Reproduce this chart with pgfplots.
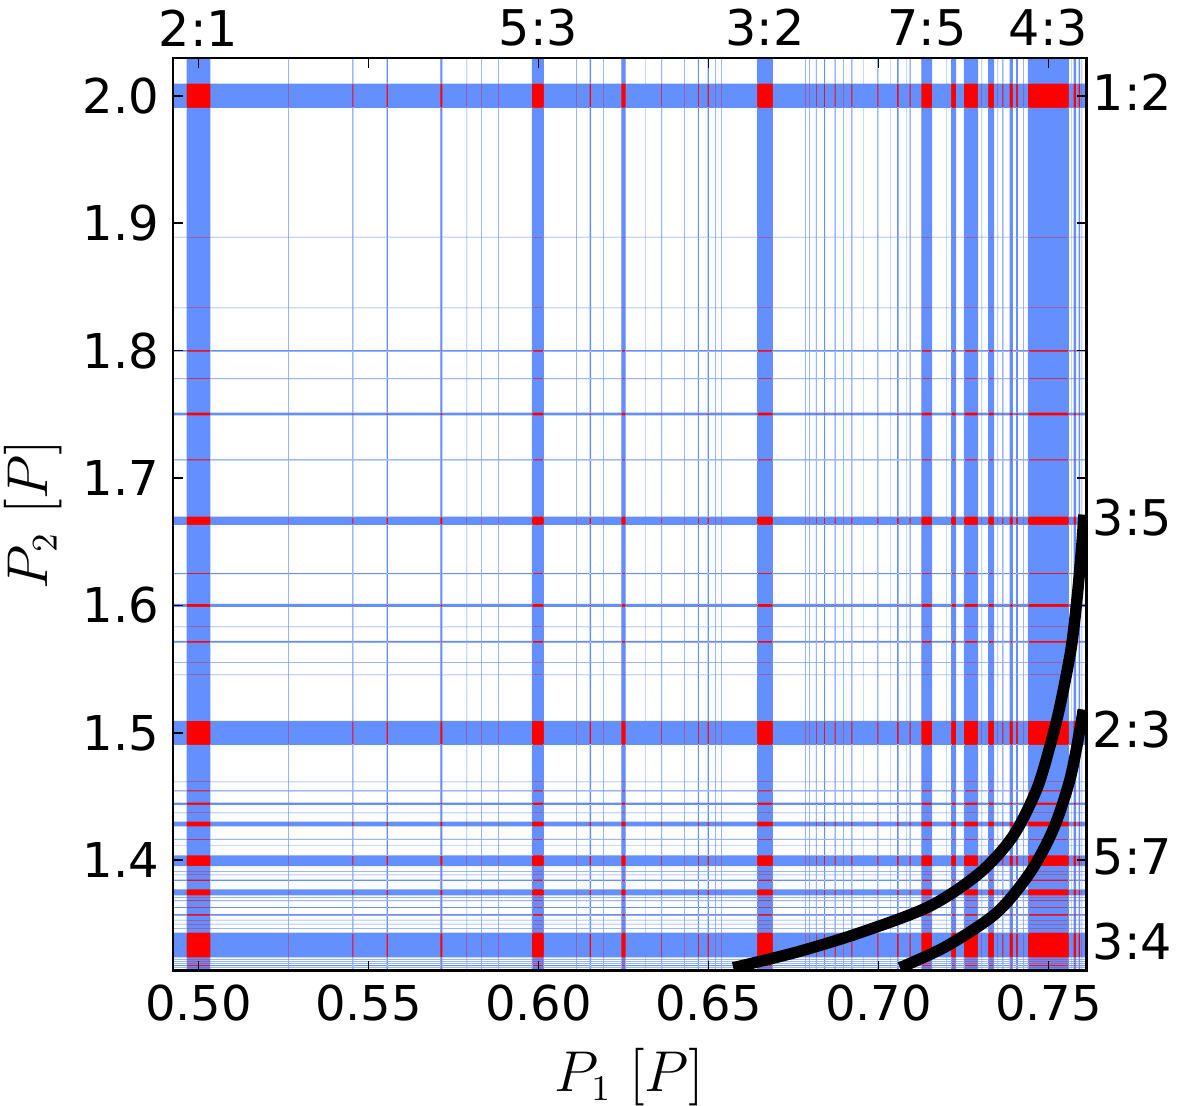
\documentclass[border=0pt]{standalone}
\usepackage{pgfplots}
\pgfplotsset{compat=1.18}
\usepackage{pgfplotstable}
\usepackage{fontspec}
\setmainfont{DejaVu Sans}
\definecolor{bandblue}{RGB}{100,143,255}
\definecolor{bandred}{RGB}{255,0,0}

% all resonance bands (vertical: P1 bands, horizontal: P2 bands) as rectangles
\pgfplotstableread{
x y
0.496471 1.2
0.503529 1.2
0.503529 2.2
0.496471 2.2
nan nan
0.52646 1.2
0.52660 1.2
0.52660 2.2
0.52646 2.2
nan nan
0.54529 1.2
0.54559 1.2
0.54559 2.2
0.54529 2.2
nan nan
0.55535 1.2
0.55571 1.2
0.55571 2.2
0.55535 2.2
nan nan
0.57112 1.2
0.57170 1.2
0.57170 2.2
0.57112 2.2
nan nan
0.57890 1.2
0.57904 1.2
0.57904 2.2
0.57890 2.2
nan nan
0.58311 1.2
0.58325 1.2
0.58325 2.2
0.58311 2.2
nan nan
0.58822 1.2
0.58836 1.2
0.58836 2.2
0.58822 2.2
nan nan
0.59809 1.2
0.60162 1.2
0.60162 2.2
0.59809 2.2
nan nan
0.61117 1.2
0.61131 1.2
0.61131 2.2
0.61117 2.2
nan nan
0.61502 1.2
0.61546 1.2
0.61546 2.2
0.61502 2.2
nan nan
0.61911 1.2
0.61925 1.2
0.61925 2.2
0.61911 2.2
nan nan
0.62435 1.2
0.62565 1.2
0.62565 2.2
0.62435 2.2
nan nan
0.63134 1.2
0.63148 1.2
0.63148 2.2
0.63134 2.2
nan nan
0.63612 1.2
0.63636 1.2
0.63636 2.2
0.63612 2.2
nan nan
0.64293 1.2
0.64307 1.2
0.64307 2.2
0.64293 2.2
nan nan
0.64685 1.2
0.64715 1.2
0.64715 2.2
0.64685 2.2
nan nan
0.64979 1.2
0.65009 1.2
0.65009 2.2
0.64979 2.2
nan nan
0.65193 1.2
0.65207 1.2
0.65207 2.2
0.65193 2.2
nan nan
0.65381 1.2
0.65395 1.2
0.65395 2.2
0.65381 2.2
nan nan
0.66435 1.2
0.66897 1.2
0.66897 2.2
0.66435 2.2
nan nan
0.67852 1.2
0.67866 1.2
0.67866 2.2
0.67852 2.2
nan nan
0.67969 1.2
0.67983 1.2
0.67983 2.2
0.67969 2.2
nan nan
0.68159 1.2
0.68183 1.2
0.68183 2.2
0.68159 2.2
nan nan
0.68403 1.2
0.68433 1.2
0.68433 2.2
0.68403 2.2
nan nan
0.68714 1.2
0.68744 1.2
0.68744 2.2
0.68714 2.2
nan nan
0.68958 1.2
0.68972 1.2
0.68972 2.2
0.68958 2.2
nan nan
0.69206 1.2
0.69236 1.2
0.69236 2.2
0.69206 2.2
nan nan
0.69546 1.2
0.69560 1.2
0.69560 2.2
0.69546 2.2
nan nan
0.69970 1.2
0.70000 1.2
0.70000 2.2
0.69970 2.2
nan nan
0.70340 1.2
0.70354 1.2
0.70354 2.2
0.70340 2.2
nan nan
0.70552 1.2
0.70596 1.2
0.70596 2.2
0.70552 2.2
nan nan
0.70811 1.2
0.70825 1.2
0.70825 2.2
0.70811 2.2
nan nan
0.70920 1.2
0.70950 1.2
0.70950 2.2
0.70920 2.2
nan nan
0.71259 1.2
0.71582 1.2
0.71582 2.2
0.71259 2.2
nan nan
0.71987 1.2
0.72001 1.2
0.72001 2.2
0.71987 2.2
nan nan
0.72141 1.2
0.72288 1.2
0.72288 2.2
0.72141 2.2
nan nan
0.72515 1.2
0.72935 1.2
0.72935 2.2
0.72515 2.2
nan nan
0.73037 1.2
0.73051 1.2
0.73051 2.2
0.73037 2.2
nan nan
0.73229 1.2
0.73406 1.2
0.73406 2.2
0.73229 2.2
nan nan
0.73508 1.2
0.73522 1.2
0.73522 2.2
0.73508 2.2
nan nan
0.73647 1.2
0.73677 1.2
0.73677 2.2
0.73647 2.2
nan nan
0.73859 1.2
0.73956 1.2
0.73956 2.2
0.73859 2.2
nan nan
0.74053 1.2
0.74103 1.2
0.74103 2.2
0.74053 2.2
nan nan
0.74264 1.2
0.74278 1.2
0.74278 2.2
0.74264 2.2
nan nan
0.74397 1.2
0.75603 1.2
0.75603 2.2
0.74397 2.2
nan nan
0.75664 1.2
0.75678 1.2
0.75678 2.2
0.75664 2.2
nan nan
0.75741 1.2
0.75818 1.2
0.75818 2.2
0.75741 2.2
nan nan
0.75888 1.2
0.75935 1.2
0.75935 2.2
0.75888 2.2
nan nan
0.75978 1.2
0.75992 1.2
0.75992 2.2
0.75978 2.2
nan nan
0.45 1.99043
0.80 1.99043
0.80 2.00949
0.45 2.00949
nan nan
0.45 1.88882
0.80 1.88882
0.80 1.88922
0.45 1.88922
nan nan
0.45 1.83337
0.80 1.83337
0.80 1.83377
0.45 1.83377
nan nan
0.45 1.79925
0.80 1.79925
0.80 1.80043
0.45 1.80043
nan nan
0.45 1.77768
0.80 1.77768
0.80 1.77808
0.45 1.77808
nan nan
0.45 1.74910
0.80 1.74910
0.80 1.75122
0.45 1.75122
nan nan
0.45 1.71373
0.80 1.71373
0.80 1.71451
0.45 1.71451
nan nan
0.45 1.66314
0.80 1.66314
0.80 1.66965
0.45 1.66965
nan nan
0.45 1.62463
0.80 1.62463
0.80 1.62525
0.45 1.62525
nan nan
0.45 1.59882
0.80 1.59882
0.80 1.60118
0.45 1.60118
nan nan
0.45 1.58294
0.80 1.58294
0.80 1.58334
0.45 1.58334
nan nan
0.45 1.57078
0.80 1.57078
0.80 1.57212
0.45 1.57212
nan nan
0.45 1.55494
0.80 1.55494
0.80 1.55534
0.45 1.55534
nan nan
0.45 1.54529
0.80 1.54529
0.80 1.54569
0.45 1.54569
nan nan
0.45 1.49059
0.80 1.49059
0.80 1.50941
0.45 1.50941
nan nan
0.45 1.46137
0.80 1.46137
0.80 1.46177
0.45 1.46177
nan nan
0.45 1.45412
0.80 1.45412
0.80 1.45490
0.45 1.45490
nan nan
0.45 1.44353
0.80 1.44353
0.80 1.44533
0.45 1.44533
nan nan
0.45 1.43705
0.80 1.43705
0.80 1.43745
0.45 1.43745
nan nan
0.45 1.42651
0.80 1.42651
0.80 1.43043
0.45 1.43043
nan nan
0.45 1.41624
0.80 1.41624
0.80 1.41686
0.45 1.41686
nan nan
0.45 1.41172
0.80 1.41172
0.80 1.41196
0.45 1.41196
nan nan
0.45 1.39537
0.80 1.39537
0.80 1.40376
0.45 1.40376
nan nan
0.45 1.39102
0.80 1.39102
0.80 1.39142
0.45 1.39142
nan nan
0.45 1.38843
0.80 1.38843
0.80 1.38883
0.45 1.38883
nan nan
0.45 1.38388
0.80 1.38388
0.80 1.38490
0.45 1.38490
nan nan
0.45 1.37239
0.80 1.37239
0.80 1.37710
0.45 1.37710
nan nan
0.45 1.37062
0.80 1.37062
0.80 1.37102
0.45 1.37102
nan nan
0.45 1.36785
0.80 1.36785
0.80 1.36863
0.45 1.36863
nan nan
0.45 1.36267
0.80 1.36267
0.80 1.36329
0.45 1.36329
nan nan
0.45 1.35647
0.80 1.35647
0.80 1.35773
0.45 1.35773
nan nan
0.45 1.35282
0.80 1.35282
0.80 1.35322
0.45 1.35322
nan nan
0.45 1.34968
0.80 1.34968
0.80 1.35008
0.45 1.35008
nan nan
0.45 1.34631
0.80 1.34631
0.80 1.34671
0.45 1.34671
nan nan
0.45 1.32376
0.80 1.32376
0.80 1.34314
0.45 1.34314
nan nan
0.45 1.32200
0.80 1.32200
0.80 1.32240
0.45 1.32240
nan nan
0.45 1.32043
0.80 1.32043
0.80 1.32083
0.45 1.32083
nan nan
0.45 1.31862
0.80 1.31862
0.80 1.31902
0.45 1.31902
nan nan
0.45 1.31686
0.80 1.31686
0.80 1.31764
0.45 1.31764
nan nan
0.45 1.31572
0.80 1.31572
0.80 1.31612
0.45 1.31612
nan nan
}\bands

% wider bands, slightly inset: shown red where two bands cross
\pgfplotstableread{
x y
0.496647 1.2
0.503353 1.2
0.503353 2.2
0.496647 2.2
nan nan
0.57130 1.2
0.57152 1.2
0.57152 2.2
0.57130 2.2
nan nan
0.59827 1.2
0.60144 1.2
0.60144 2.2
0.59827 2.2
nan nan
0.62453 1.2
0.62547 1.2
0.62547 2.2
0.62453 2.2
nan nan
0.66453 1.2
0.66879 1.2
0.66879 2.2
0.66453 2.2
nan nan
0.71277 1.2
0.71564 1.2
0.71564 2.2
0.71277 2.2
nan nan
0.72159 1.2
0.72270 1.2
0.72270 2.2
0.72159 2.2
nan nan
0.72533 1.2
0.72917 1.2
0.72917 2.2
0.72533 2.2
nan nan
0.73247 1.2
0.73388 1.2
0.73388 2.2
0.73247 2.2
nan nan
0.73877 1.2
0.73938 1.2
0.73938 2.2
0.73877 2.2
nan nan
0.74071 1.2
0.74085 1.2
0.74085 2.2
0.74071 2.2
nan nan
0.74415 1.2
0.75585 1.2
0.75585 2.2
0.74415 2.2
nan nan
0.75759 1.2
0.75800 1.2
0.75800 2.2
0.75759 2.2
nan nan
0.75906 1.2
0.75917 1.2
0.75917 2.2
0.75906 2.2
nan nan
0.45 1.99090
0.80 1.99090
0.80 2.00902
0.45 2.00902
nan nan
0.45 1.79972
0.80 1.79972
0.80 1.79996
0.45 1.79996
nan nan
0.45 1.74957
0.80 1.74957
0.80 1.75075
0.45 1.75075
nan nan
0.45 1.66361
0.80 1.66361
0.80 1.66918
0.45 1.66918
nan nan
0.45 1.59929
0.80 1.59929
0.80 1.60071
0.45 1.60071
nan nan
0.45 1.57125
0.80 1.57125
0.80 1.57165
0.45 1.57165
nan nan
0.45 1.49106
0.80 1.49106
0.80 1.50894
0.45 1.50894
nan nan
0.45 1.44400
0.80 1.44400
0.80 1.44486
0.45 1.44486
nan nan
0.45 1.42698
0.80 1.42698
0.80 1.42996
0.45 1.42996
nan nan
0.45 1.39584
0.80 1.39584
0.80 1.40329
0.45 1.40329
nan nan
0.45 1.37286
0.80 1.37286
0.80 1.37663
0.45 1.37663
nan nan
0.45 1.35694
0.80 1.35694
0.80 1.35726
0.45 1.35726
nan nan
0.45 1.32423
0.80 1.32423
0.80 1.34267
0.45 1.34267
nan nan
}\redbands

\begin{document}
\begin{tikzpicture}
\path[use as bounding box] (-43.25pt,-33.625pt) rectangle (251.25pt,242.625pt);
\begin{axis}[
  at={(0pt,0pt)}, anchor=south west,
  width=228.375pt, height=228.125pt, scale only axis,
  xmin=0.4925, xmax=0.7612, ymin=1.3135, ymax=2.0296,
  xtick={0.5,0.55,0.6,0.65,0.7,0.75},
  ytick={1.4,1.5,1.6,1.7,1.8,1.9,2.0},
  tick pos=both, tick align=inside,
  major tick length=2.5pt,
  every tick/.style={black, line width=0.4pt},
  axis line style={line width=0.6pt},
  axis on top,
  unbounded coords=jump,
  /pgf/number format/assume math mode=true,
  tick label style={font=\fontsize{12}{14}\selectfont},
  x tick label style={/pgf/number format/fixed, /pgf/number format/fixed zerofill, /pgf/number format/precision=2},
  y tick label style={/pgf/number format/fixed, /pgf/number format/fixed zerofill, /pgf/number format/precision=1},
  xlabel={$P_1\ [P]$}, ylabel={$P_2\ [P]$},
  label style={font=\fontsize{13.5}{16}\selectfont},
  ylabel style={yshift=-1.8pt},
]
\addplot[fill=bandred, draw=none] table {\redbands};
\addplot[fill=bandblue, draw=none, even odd rule] table {\bands};
\addplot[black, line width=2.85pt, smooth, tension=0.5] coordinates {
(0.65729,1.31569) (0.67594,1.32792) (0.69456,1.34314) (0.71515,1.36400)
(0.72985,1.39020) (0.73956,1.41890) (0.74653,1.45553) (0.75044,1.48949)
(0.75338,1.52086) (0.75662,1.56533) (0.75838,1.60455) (0.75971,1.64376)
(0.76044,1.67122)};
\addplot[black, line width=2.85pt, smooth, tension=0.5] coordinates {
(0.70632,1.31569) (0.72006,1.33263) (0.73476,1.35882) (0.74456,1.39020)
(0.75141,1.42416) (0.75632,1.46337) (0.75926,1.50259) (0.76024,1.51827)};
\end{axis}
\begin{axis}[
  at={(0pt,0pt)}, anchor=south west,
  width=228.375pt, height=228.125pt, scale only axis,
  xmin=0.4925, xmax=0.7612, ymin=1.3135, ymax=2.0296,
  axis line style={draw=none},
  xtick pos=right, ytick pos=right,
  xticklabel pos=right, yticklabel pos=right,
  major tick length=0pt,
  xtick={0.5,0.6,0.666667,0.714286,0.75},
  xticklabels={2:1,5:3,3:2,7:5,4:3},
  ytick={2,1.666667,1.5,1.4,1.333333},
  yticklabels={1:2,3:5,2:3,5:7,3:4},
  tick label style={font=\fontsize{12.3}{14}\selectfont},
  xticklabel style={inner sep=0pt, yshift=2.75pt},
  yticklabel style={inner sep=0pt, xshift=1.4pt, yshift=0.8pt, anchor=west},
]
\end{axis}
\end{tikzpicture}
\end{document}
